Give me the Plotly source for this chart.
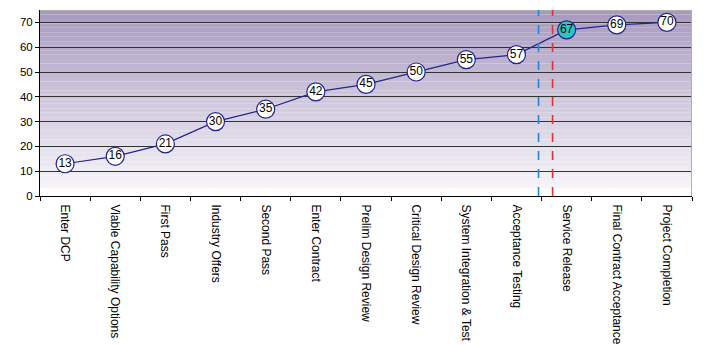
import plotly.graph_objects as go

# Milestones and cumulative progress values
milestones = [
    "Enter DCP", "Viable Capability Options", "First Pass", "Industry Offers",
    "Second Pass", "Enter Contract", "Prelim Design Review", "Critical Design Review",
    "System Integration & Test", "Acceptance Testing", "Service Release",
    "Final Contract Acceptance", "Project Completion",
]
progress = [13, 16, 21, 30, 35, 42, 45, 50, 55, 57, 67, 69, 70]
highlight = "Service Release"

# Positions of the two marker lines (in category units)
blue_line_pos = 9.44
red_line_pos = 9.72

y_max = 75
y_ticks = [0, 10, 20, 30, 40, 50, 60, 70]

idx = list(range(len(milestones)))
boundaries = [i - 0.5 for i in range(len(milestones) + 1)]
fill_colors = ["#2cc5c5" if m == highlight else "white" for m in milestones]

fig = go.Figure()
fig.add_trace(go.Scatter(
    x=idx, y=progress, mode="lines+markers+text",
    text=[str(v) for v in progress], textposition="middle center",
    textfont=dict(family="Liberation Sans, Arial", size=12, color="black"),
    line=dict(color="#24248a", width=1.2),
    marker=dict(size=18, color=fill_colors, line=dict(color="#24248a", width=1.2)),
    cliponaxis=False, hoverinfo="skip",
))

# Vertical gradient background (purple at top fading to white)
shapes = []
top = (168, 154, 191)
bot = (246, 244, 249)
n = 40
g0, g1 = 3.0, y_max
for i in range(n):
    t = i / (n - 1)
    c = tuple(round(bot[k] + (top[k] - bot[k]) * t) for k in range(3))
    y0 = g0 + (g1 - g0) * i / n
    y1 = g0 + (g1 - g0) * (i + 1) / n
    shapes.append(dict(type="rect", xref="x", yref="y", x0=-0.5, x1=12.5,
                       y0=y0, y1=y1, fillcolor="rgb(%d,%d,%d)" % c,
                       line=dict(width=0), layer="below"))
shapes.append(dict(type="rect", xref="x", yref="y", x0=-0.5, x1=12.5, y0=0, y1=g0,
                   fillcolor="white", line=dict(width=0), layer="below"))
# Gray frame on top and right of plotting area
shapes.append(dict(type="line", xref="x", yref="y", x0=-0.5, x1=12.5, y0=y_max, y1=y_max,
                   line=dict(color="#b0b0b0", width=2)))
shapes.append(dict(type="line", xref="x", yref="y", x0=12.5, x1=12.5, y0=0, y1=y_max,
                   line=dict(color="#b0b0b0", width=2)))
# Dashed marker lines
shapes.append(dict(type="line", xref="x", yref="y", x0=blue_line_pos, x1=blue_line_pos,
                   y0=0, y1=y_max, line=dict(color="#1a8ad4", width=1.6, dash="dash")))
shapes.append(dict(type="line", xref="x", yref="y", x0=red_line_pos, x1=red_line_pos,
                   y0=0, y1=y_max, line=dict(color="#e8302e", width=1.6, dash="dash")))

fig.update_layout(
    width=709, height=345,
    margin=dict(l=40, r=17, t=10, b=149),
    paper_bgcolor="white", plot_bgcolor="white",
    showlegend=False, shapes=shapes,
    font=dict(family="Liberation Sans, Arial", size=11, color="black"),
)
fig.update_xaxes(
    range=[-0.5, 12.5], tickmode="array", tickvals=idx, ticktext=milestones,
    tickangle=90, showgrid=False, zeroline=False, automargin=False,
    showline=True, linecolor="black", linewidth=1,
    ticks="", ticklabelstandoff=5, tickfont=dict(size=12),
    minor=dict(tickmode="array", tickvals=boundaries, ticks="outside",
               ticklen=4, tickcolor="black", showgrid=False),
)
fig.update_yaxes(
    range=[0, y_max], tickvals=y_ticks, showgrid=True, gridcolor="#333333", gridwidth=1,
    zeroline=False, showline=True, linecolor="black", linewidth=1, automargin=False,
    ticks="outside", ticklen=4, tickcolor="black", tickfont=dict(size=11.5),
)

fig.write_html("out.html")
